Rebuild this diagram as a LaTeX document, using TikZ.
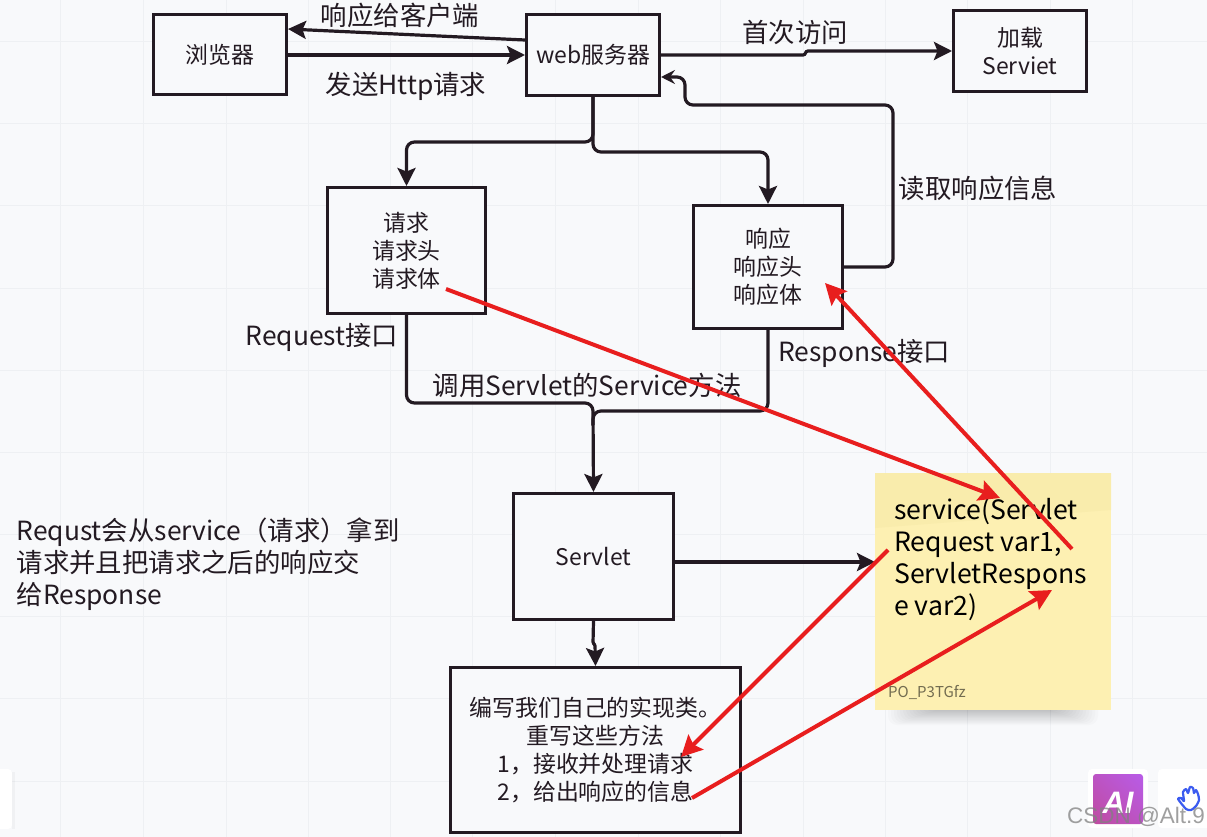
\documentclass[tikz,border=0pt]{standalone}
\usepackage{fontspec}
\setmainfont{Noto Sans CJK SC}
\newfontfamily\wmfont{Liberation Sans}
\usetikzlibrary{arrows.meta,calc,shadings}
\definecolor{bgc}{HTML}{F8F9FB}
\definecolor{gridc}{HTML}{EEF0F3}
\definecolor{ink}{HTML}{231A22}
\definecolor{redc}{HTML}{E81E1E}
\definecolor{sticky}{HTML}{FDF0B2}
\definecolor{stickytop}{HTML}{F9ECAC}
\definecolor{aileft}{HTML}{C04BA0}
\definecolor{airight}{HTML}{B85CE8}
\definecolor{handc}{HTML}{3B5BF0}
\tikzset{
  x=1pt,y=-1pt,
  boxn/.style={draw=ink,line width=3pt,fill=bgc,align=center,text=ink,font=\fontsize{22.9}{28}\selectfont,inner sep=0pt},
  lab/.style={text=ink,font=\fontsize{26.4}{32}\selectfont,inner sep=0pt,align=left},
  conn/.style={draw=ink,line width=3.2pt,rounded corners=8pt,-{Stealth[length=18pt,width=18pt,inset=3.5pt]}},
  plainconn/.style={draw=ink,line width=3.2pt,rounded corners=8pt},
  redarrow/.style={draw=redc,line width=4pt,-{Stealth[length=21pt,width=21pt,inset=3.5pt]}},
  tile/.style={fill=white,rounded corners=4pt,draw=none},
}
\begin{document}
\begin{tikzpicture}
\useasboundingbox (0,0) rectangle (1207,837);
\fill[bgc] (0,0) rectangle (1207,837);
% grid
\foreach \gx in {60,143,226,308,390,472,555,638,720,803,885,967,1050,1132}
  \draw[gridc,line width=1pt] (\gx,0) -- (\gx,837);
\foreach \gy in {42,124,206,288,370,452,534,616,698,781}
  \draw[gridc,line width=1pt] (0,\gy) -- (1207,\gy);

% sticky note shadow
\foreach \i in {0,...,13}
  \fill[black,opacity=0.014,rounded corners=9pt] ({888+3*\i},700) rectangle ({1098-3*\i},{725-1.1*\i});
% sticky note
\fill[sticky] (875,473) rectangle (1111,710);
\fill[stickytop] (875,473) -- (1111,473) -- (1111,510) -- (875,528) -- cycle;
\node[lab,anchor=north west,text=black,font=\fontsize{26.6}{32}\selectfont] (stickytext) at (894,497.5)
  {service(Servlet\\Request var1,\\ServletRespons\\e var2)};
\node[inner sep=0pt,anchor=west,text=black!55!sticky,font=\fontsize{15}{16}\selectfont] (stickyid) at (888,692) {PO\_P3TGfz};
\coordinate (sticky) at (875,562);
\coordinate (redA) at (1000,498);
\coordinate (redB) at (1072,549);
\coordinate (redC) at (888,550);
\coordinate (redD) at (1052,590);

% boxes
\node[boxn,minimum width=133pt,minimum height=80pt] (browser) at (220,54.5) {浏览器};
\node[boxn,minimum width=133pt,minimum height=81pt] (web) at (593,55) {web服务器};
\node[boxn,minimum width=133pt,minimum height=81pt] (load) at (1020,51) {加载\\Serviet};
\node[boxn,minimum width=158pt,minimum height=126pt] (req) at (406.5,250.5) {请求\\请求头\\请求体};
\node[boxn,minimum width=149pt,minimum height=123pt] (resp) at (768,267) {响应\\响应头\\响应体};
\node[boxn,minimum width=160pt,minimum height=126pt] (servlet) at (593.5,556.5) {Servlet};
\node[boxn,minimum width=290pt,minimum height=165pt] (impl) at (595.5,750) {编写我们自己的实现类。\\重写这些方法\\1，接收并处理请求\\2，给出响应的信息};

% labels
\node[lab] (l1) at (400,15) {响应给客户端};
\node[lab] (l2) at (406,86) {发送Http请求};
\node[lab] (l3) at (795,32.5) {首次访问};
\node[lab] (l4) at (978,188) {读取响应信息};
\node[lab] (l5) at (322,337) {Request接口};
\node[lab] (l6) at (864,353) {Response接口};
\node[lab] (l7) at (587,385) {调用Servlet的Service方法};
\node[lab,anchor=north west] (l8) at (16.5,518) {Requst会从service（请求）拿到\\请求并且把请求之后的响应交\\给Response};

% black connectors
\draw[conn] (web.west |- 0,40) -- (browser.east |- 0,29);
\draw[conn] (browser.east |- 0,55) -- (web.west |- 0,55);
\draw[conn,sharp corners] (web.east) -- (803,55) .. controls (806,55) and (805,51) .. (808,51) -- (load.west |- 0,51);
\draw[conn] (web.south) -- (593,142) -- (req.north |- 0,142) -- (req.north);
\draw[conn] (web.south) -- (593,152) -- (resp.north |- 0,152) -- (resp.north);
\draw[conn,-{Stealth[length=14pt,width=14pt,inset=5pt]}] (resp.east |- 0,267) -- (893,267) -- (893,105) -- (685,105) -- (685,77) -- (web.east |- 0,77);
\draw[plainconn] (req.south) -- (req.south |- 0,403) -- (593,403) -- (593,425);
\draw[conn] (resp.south) -- (resp.south |- 0,411) -- (593,411) -- (servlet.north);
\draw[conn] (servlet.east |- 0,562) -- (sticky);
\draw[conn,rounded corners=1pt] (servlet.south) -- (593,643) -- (595,645) -- (impl.north);

% red arrows
\coordinate (redR) at (446,289);
\coordinate (redT) at (825,283);
\coordinate (redL) at (681,757);
\coordinate (redM) at (692,798);
\draw[redarrow] (redR) -- (redA);
\draw[redarrow] (redB) -- (redT);
\draw[redarrow] (redC) -- (redL);
\draw[redarrow] (redM) -- (redD);

% toolbars
\fill[tile] (-10,769) rectangle (12,829);
\fill[black,opacity=0.03] (12,772) rectangle (15,829);
\fill[tile] (1088,769) rectangle (1148,828);
\shade[lower left=aileft,lower right=aileft!50!airight,upper left=aileft!50!airight,upper right=airight,rounded corners=3pt] (1093,774) rectangle (1143,824);
\node[inner sep=0pt,text=white,font=\wmfont\bfseries\itshape\fontsize{31}{31}\selectfont] (ai) at (1118,803) {AI};
\fill[tile] (1158,769) rectangle (1215,828);
% hand icon
\draw[handc,line width=2.2pt,line join=round,line cap=round,fill=white]
  plot[smooth cycle,tension=0.4] coordinates {(1178,799) (1181,798) (1184,801) (1183,792) (1186,789) (1188,793) (1190,787) (1193,788) (1194,793) (1196,790) (1198,794) (1199,800) (1196,806) (1191,810) (1186,809)};
\node[inner sep=0pt,text=gray,opacity=0.75,font=\wmfont\fontsize{22.5}{23}\selectfont] (wm) at (1136,817) {CSDN @Alt.9};
\end{tikzpicture}
\end{document}
